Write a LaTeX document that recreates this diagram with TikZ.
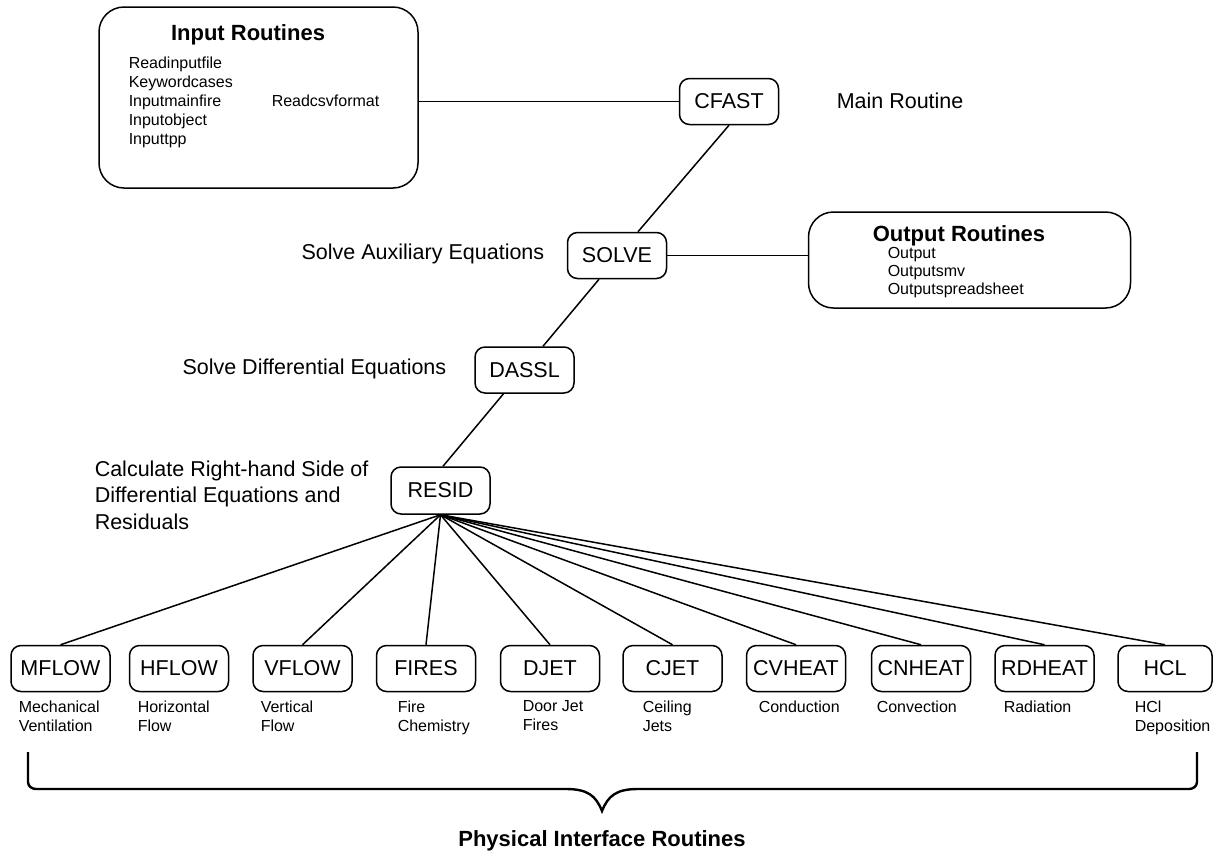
\documentclass[tikz,border=0pt]{standalone}
\usepackage{fontspec}
\setmainfont{Liberation Sans}

\begin{document}
\begin{tikzpicture}[x=1pt, y=-1pt, line width=1.5pt,
    routine/.style={draw, rounded corners=10pt, minimum width=99pt,
      minimum height=46pt, inner sep=0pt, font=\fontsize{21.5}{26}\selectfont},
    group/.style={draw, rounded corners=25pt, inner sep=0pt},
    note/.style={inner sep=0pt, align=left, font=\fontsize{21.5}{26.5}\selectfont},
    small/.style={inner sep=0pt, align=left, anchor=north west},
    title/.style={inner sep=0pt, anchor=base, font=\fontsize{22}{26}\selectfont\bfseries}]

  \useasboundingbox (0,0) rectangle (1213,852);

  % Input routines
  \node[group, minimum width=319pt, minimum height=181pt]
    (inbox) at (258.5,97.5) {};
  \node[title] (intitle) at (248,40) {Input Routines};
  \node[small, font=\fontsize{16}{19}\selectfont]
    (inlist) at (128,56) {Readinputfile\\Keywordcases\\Inputmainfire\\Inputobject\\Inputtpp};
  \node[small, font=\fontsize{16}{19}\selectfont]
    (incsv) at (271,94) {Readcsvformat};

  % Main chain
  \node[routine] (cfast) at (729,101.5) {CFAST};
  \node[note, anchor=base west] (cfastlbl) at (836,108.7) {Main Routine};
  \node[routine] (solve) at (617,255.5) {SOLVE};
  \node[note, anchor=base east] (solvelbl) at (545,259.7) {Solve Auxiliary Equations};
  \node[routine] (dassl) at (524.5,370) {DASSL};
  \node[note, anchor=base east] (dassllbl) at (447,374.7) {Solve Differential Equations};
  \node[routine, minimum height=47pt] (resid) at (440.5,490.5) {RESID};
  \node[note, anchor=north west] (residlbl) at (94,460)
    {Calculate Right-hand Side of\\Differential Equations and\\Residuals};

  % Output routines
  \node[group, minimum width=322pt, minimum height=96pt]
    (outbox) at (969.5,260) {};
  \node[title] (outtitle) at (959,241) {Output Routines};
  \node[small, font=\fontsize{16}{18}\selectfont]
    (outlist) at (887,247) {Output\\Outputsmv\\Outputspreadsheet};

  % Physical interface routines
  \node[routine] (mflow)  at (60.5,668.5)   {MFLOW};
  \node[routine] (hflow)  at (179,668.5)    {HFLOW};
  \node[routine] (vflow)  at (302.5,668.5)  {VFLOW};
  \node[routine] (fires)  at (426,668.5)    {FIRES};
  \node[routine] (djet)   at (550,668.5)    {DJET};
  \node[routine] (cjet)   at (672.5,668.5)  {CJET};
  \node[routine] (cvheat) at (796,668.5)    {CVHEAT};
  \node[routine] (cnheat) at (921,668.5)    {CNHEAT};
  \node[routine] (rdheat) at (1044.5,668.5) {RDHEAT};
  \node[routine, minimum width=94pt] (hcl) at (1165,668.5) {HCL};

  \tikzset{every node/.append style={font=\fontsize{16}{19}\selectfont}}
  \node[small] (mflowlbl)  at (18,700)   {Mechanical\\Ventilation};
  \node[small] (hflowlbl)  at (137,700)  {Horizontal\\Flow};
  \node[small] (vflowlbl)  at (260,700)  {Vertical\\Flow};
  \node[small] (fireslbl)  at (397,700)  {Fire\\Chemistry};
  \node[small] (djetlbl)   at (522,700)  {Door Jet\\Fires};
  \node[small] (cjetlbl)   at (642,700)  {Ceiling\\Jets};
  \node[small] (cvheatlbl) at (758,700)  {Conduction};
  \node[small] (cnheatlbl) at (876,700)  {Convection};
  \node[small] (rdheatlbl) at (1003,700) {Radiation};
  \node[small] (hcllbl)    at (1134,700) {HCl\\Deposition};

  \draw[line width=2.4pt] (28,752) -- (28,782) to[out=-90,in=180] (36,789)
    -- (566,789) .. controls (588,789) and (596,796) .. (602,811)
    .. controls (608,796) and (616,789) .. (638,789)
    -- (1189,789) to[out=0,in=-90] (1197,782) -- (1197,752);
  \node[title] (physlbl) at (602,846) {Physical Interface Routines};

  % connectors
  \draw (cfast.west) -- (cfast.west -| inbox.east);
  \draw (cfast.south) -- ([xshift=21pt]solve.north);
  \draw (solve.east) -- (solve.east -| outbox.west);
  \draw ([xshift=-18pt]solve.south) -- ([xshift=18.5pt]dassl.north);
  \draw ([xshift=-21pt]dassl.south) -- ([xshift=2.5pt]resid.north);

  \path (resid.south) edge (mflow.north)
        (resid.south) edge (vflow.north)
        (resid.south) edge (fires.north)
        (resid.south) edge (djet.north)
        (resid.south) edge (cjet.north)
        (resid.south) edge (cvheat.north)
        (resid.south) edge (cnheat.north)
        (resid.south) edge (rdheat.north)
        (resid.south) edge (hcl.north);

\end{tikzpicture}
\end{document}
